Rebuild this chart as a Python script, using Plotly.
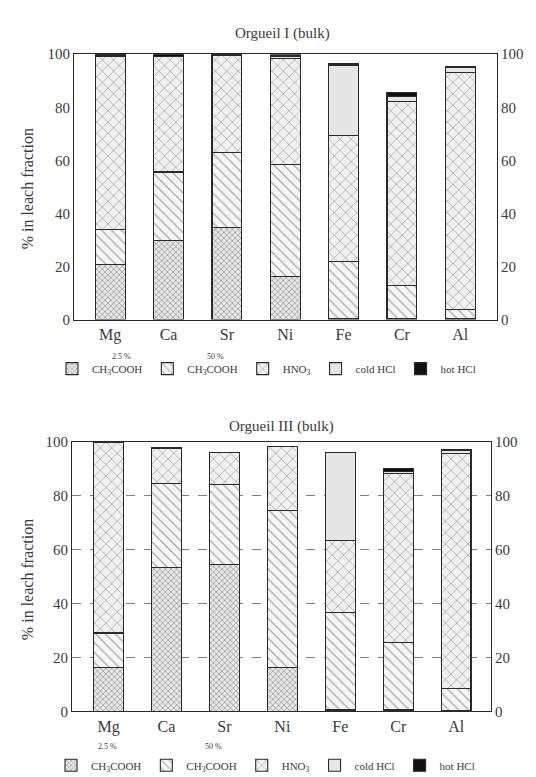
import plotly.graph_objects as go

categories = ["Mg", "Ca", "Sr", "Ni", "Fe", "Cr", "Al"]
tick_vals = [0, 20, 40, 60, 80, 100]

# Orgueil I (bulk) - % in leach fraction
orgI_ch3cooh_25 = [20.9, 29.8, 34.7, 16.4, 0.3, 0.3, 0.3]
orgI_ch3cooh_50 = [13.2, 25.8, 28.3, 42.0, 21.6, 12.6, 3.4]
orgI_hno3 = [65.2, 43.4, 36.6, 40.1, 47.4, 69.3, 89.5]
orgI_cold_hcl = [0.4, 0.3, 0.2, 0.5, 26.4, 2.0, 1.8]
orgI_hot_hcl = [0.2, 0.7, 0.1, 0.7, 0.6, 1.2, 0.2]

# Orgueil III (bulk)
orgIII_ch3cooh_25 = [16.4, 53.3, 54.5, 16.4, 0.5, 0.5, 0.3]
orgIII_ch3cooh_50 = [12.7, 31.2, 29.7, 58.1, 36.2, 25.0, 8.1]
orgIII_hno3 = [70.9, 13.3, 11.9, 23.9, 26.9, 62.8, 87.4]
orgIII_cold_hcl = [0.0, 0.0, 0.0, 0.0, 32.5, 0.8, 1.0]
orgIII_hot_hcl = [0.0, 0.0, 0.0, 0.0, 0.0, 1.1, 0.5]

series_names = ["CH<sub>3</sub>COOH", "CH<sub>3</sub>COOH", "HNO<sub>3</sub>", "cold HCl", "hot HCl"]

W, H = 536, 777
FONT = "Liberation Serif"
TXT = "#3a3a3a"
LINE = "#2a2a2a"

styles = [
    dict(color="white", pattern=dict(shape="x", size=4, solidity=0.35, fgcolor="#555555", bgcolor="#e8e8e8")),
    dict(color="white", pattern=dict(shape="\\", size=7, solidity=0.2, fgcolor="#666666", bgcolor="#f6f6f6")),
    dict(color="white", pattern=dict(shape="x", size=8, solidity=0.16, fgcolor="#555555", bgcolor="#f0f0f0")),
    dict(color="#e6e6e6"),
    dict(color="#111111"),
]

fig = go.Figure()

panels = [
    dict(xa="x", ya="y", legend="legend",
         data=[orgI_ch3cooh_25, orgI_ch3cooh_50, orgI_hno3, orgI_cold_hcl, orgI_hot_hcl]),
    dict(xa="x2", ya="y2", legend="legend2",
         data=[orgIII_ch3cooh_25, orgIII_ch3cooh_50, orgIII_hno3, orgIII_cold_hcl, orgIII_hot_hcl]),
]

for p in panels:
    for name, vals, st in zip(series_names, p["data"], styles):
        m = dict(st)
        m["line"] = dict(color=LINE, width=1.1)
        fig.add_trace(go.Bar(
            x=categories, y=vals, name=name, marker=m, width=0.51,
            xaxis=p["xa"], yaxis=p["ya"], legend=p["legend"],
        ))

def px_x(v):
    return v / W

def px_y(v):
    return 1 - v / H

axis_font = dict(family=FONT, size=15, color=TXT)

common_x = dict(type="category", showline=True, linecolor=LINE, linewidth=1, mirror=True,
                ticks="", showgrid=False, zeroline=False, tickfont=dict(family=FONT, size=16, color=TXT))
common_y = dict(range=[0, 100], tickvals=tick_vals, showline=True, linecolor=LINE, linewidth=1,
                ticks="", zeroline=False, tickfont=axis_font, fixedrange=True)

legend_common = dict(orientation="h", xanchor="left", yanchor="middle",
                     font=dict(family=FONT, size=11, color=TXT), itemwidth=30,
                     bgcolor="rgba(0,0,0,0)", traceorder="normal")

fig.update_layout(
    width=W, height=H,
    margin=dict(l=0, r=0, t=0, b=0),
    paper_bgcolor="white", plot_bgcolor="white",
    barmode="stack",
    font=dict(family=FONT, color=TXT),
    xaxis=dict(common_x, domain=[px_x(66), px_x(489)], anchor="y", range=[-0.62, 6.63]),
    yaxis=dict(common_y, domain=[px_y(310), px_y(39)], anchor="x", showgrid=False),
    yaxis3=dict(common_y, overlaying="y", side="right", anchor="x", showgrid=False),
    xaxis2=dict(common_x, domain=[px_x(64), px_x(483)], anchor="y2", range=[-0.63, 6.6]),
    yaxis2=dict(common_y, domain=[px_y(710), px_y(435)], anchor="x2", showgrid=True,
                gridcolor="#808080", griddash="dash", gridwidth=1),
    yaxis4=dict(common_y, overlaying="y2", side="right", anchor="x2", showgrid=False),
    legend=dict(legend_common, x=px_x(44), y=px_y(360)),
    legend2=dict(legend_common, x=px_x(43), y=px_y(765)),
    showlegend=True,
)

# placeholder traces so the right-hand axes render
for xa, ya in [("x", "y3"), ("x2", "y4")]:
    fig.add_trace(go.Scatter(x=[None], y=[None], xaxis=xa, yaxis=ya,
                             showlegend=False, hoverinfo="skip"))

for text, xc, yc in [("Orgueil I (bulk)", 274, 18), ("Orgueil III (bulk)", 273, 419)]:
    fig.add_annotation(xref="paper", yref="paper", x=px_x(xc), y=px_y(yc), text=text,
                       showarrow=False, font=dict(family=FONT, size=15, color=TXT),
                       xanchor="center", yanchor="middle")

for yc in [177, 576]:
    fig.add_annotation(xref="paper", yref="paper", x=px_x(19), y=px_y(yc), text="% in leach fraction",
                       textangle=-90, showarrow=False, font=dict(family=FONT, size=16, color=TXT),
                       xanchor="center", yanchor="middle")

for (x25, x50, yy) in [(102, 207, 348), (88, 205, 753)]:
    fig.add_annotation(xref="paper", yref="paper", x=px_x(x25), y=px_y(yy), text="2.5 %",
                       showarrow=False, font=dict(family=FONT, size=8, color=TXT))
    fig.add_annotation(xref="paper", yref="paper", x=px_x(x50), y=px_y(yy), text="50 %",
                       showarrow=False, font=dict(family=FONT, size=8, color=TXT))

fig.write_html("out.html")
